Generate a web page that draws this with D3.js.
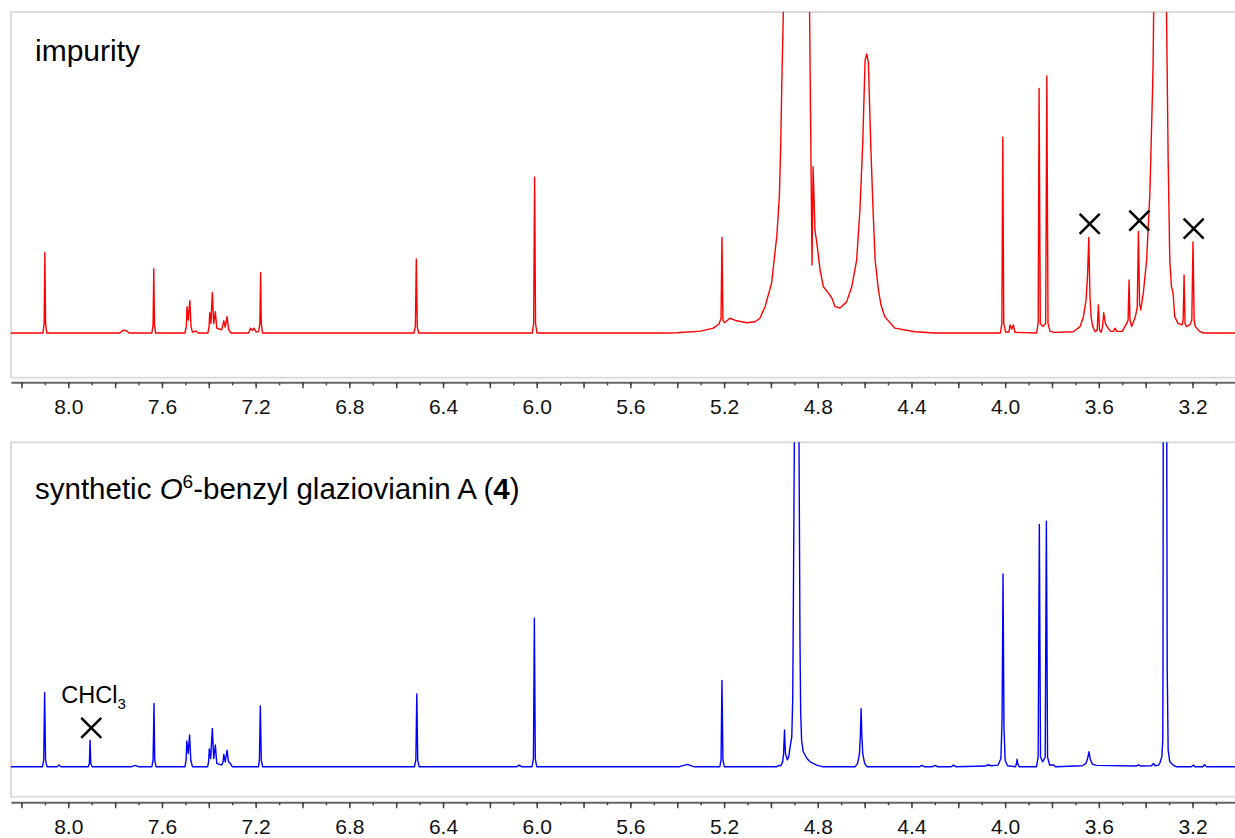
<!DOCTYPE html>
<html>
<head>
<meta charset="utf-8">
<script src="https://cdn.jsdelivr.net/npm/d3@7"></script>
<style>
  body { margin: 0; background: #fff; }
  svg text { font-family: "Liberation Sans", Arial, sans-serif; }
</style>
</head>
<body>
<div id="chart"></div>
<script>
// 1H NMR traces, [ppm, intensity]; intensity 0 = baseline, 100 = top of the frame
const impurityTrace = [
  [8.25, 0], [8.108, 0], [8.103, 3], [8.100, 25.1], [8.097, 3], [8.092, 0],
  [7.78, 0], [7.765, 0.9], [7.752, 0.7], [7.74, 0],
  [7.643, 0], [7.638, 2.5], [7.635, 20.0], [7.632, 2.5], [7.627, 0],
  [7.502, 0], [7.496, 2], [7.493, 8.2], [7.488, 4], [7.481, 10.1], [7.476, 2], [7.470, 0.3],
  [7.455, 0.6], [7.445, 0],
  [7.404, 0], [7.399, 2], [7.396, 6.3], [7.391, 3], [7.385, 12.6], [7.379, 3], [7.372, 6.6], [7.366, 1.5],
  [7.345, 1.0], [7.336, 3.8], [7.330, 1.8], [7.322, 5.1], [7.315, 1.0], [7.305, 0],
  [7.23, 0], [7.222, 1.5], [7.215, 0.8], [7.207, 1.5], [7.198, 0.3],
  [7.187, 0.5], [7.182, 3], [7.179, 18.9], [7.176, 3], [7.171, 0],
  [6.524, 0], [6.518, 2], [6.514, 23.1], [6.510, 2], [6.504, 0],
  [6.019, 0], [6.013, 3], [6.009, 48.5], [6.005, 3], [5.999, 0],
  [5.45, 0], [5.40, 0.1], [5.30, 0.6], [5.246, 1.5], [5.222, 2.8], [5.213, 4.5], [5.209, 29.8],
  [5.205, 4], [5.198, 3.2], [5.175, 4.6], [5.146, 3.8], [5.103, 3.2], [5.068, 3.5], [5.047, 4.6],
  [5.025, 8.2], [4.997, 15.6], [4.975, 30.1], [4.964, 42.5], [4.958, 59.2], [4.953, 79.9],
  [4.947, 100], [4.935, 180], [4.890, 400], [4.845, 180], [4.835, 100], [4.829, 53.9],
  [4.8245, 21.2], [4.820, 51.8], [4.812, 32.1], [4.804, 28], [4.790, 19.6], [4.776, 14.4],
  [4.755, 12.5], [4.740, 10.9], [4.726, 8.2], [4.705, 7.8], [4.677, 9.7], [4.655, 14.4],
  [4.634, 22.7], [4.620, 38.3], [4.608, 59.2], [4.598, 85], [4.591, 86.9], [4.584, 84.4],
  [4.574, 59.2], [4.564, 38.3], [4.555, 22.7], [4.541, 13.4], [4.530, 8.7], [4.514, 5.1],
  [4.471, 1.5], [4.385, 0.4], [4.30, 0],
  [4.020, 0], [4.014, 3], [4.010, 61.0], [4.006, 3], [3.998, 0.3],
  [3.984, 0.3], [3.979, 2.5], [3.972, 1.2], [3.965, 2.5], [3.958, 0.2],
  [3.866, 0], [3.859, 3], [3.855, 76.2], [3.850, 3], [3.839, 2.0], [3.827, 3], [3.822, 80.1],
  [3.817, 3], [3.808, 0.5], [3.79, 0.2],
  [3.709, 0.4], [3.680, 2.0], [3.666, 5], [3.655, 10], [3.648, 18], [3.643, 29.8], [3.638, 12],
  [3.633, 5], [3.626, 2], [3.616, 0.4],
  [3.607, 0.8], [3.602, 8.7], [3.597, 1.0], [3.590, 0.2], [3.584, 2], [3.579, 6.3], [3.572, 3],
  [3.565, 2], [3.55, 0.5],
  [3.538, 0.5], [3.531, 1.5], [3.524, 0.5], [3.50, 0.5], [3.481, 3.0], [3.475, 4], [3.471, 16.5],
  [3.467, 4], [3.460, 2.0], [3.444, 5.1], [3.436, 8], [3.431, 31.6], [3.426, 9], [3.421, 7.2],
  [3.410, 12.5], [3.396, 22.7], [3.382, 43.6], [3.371, 74.8], [3.368, 85], [3.362, 130],
  [3.337, 400], [3.314, 130], [3.311, 100], [3.304, 53.9], [3.297, 22.7], [3.290, 14.4],
  [3.283, 12.5], [3.276, 5.1], [3.262, 3.0], [3.245, 2.5], [3.240, 4], [3.236, 18.1], [3.232, 3],
  [3.226, 2], [3.212, 2.5], [3.203, 4], [3.198, 28.4], [3.193, 4], [3.188, 2], [3.170, 0.5],
  [3.153, 0], [2.99, 0]
];

const syntheticTrace = [
  [8.25, 0], [8.110, 0], [8.105, 2], [8.101, 22.9], [8.097, 2], [8.091, 0],
  [8.048, 0], [8.040, 0.5], [8.032, 0],
  [7.915, 0], [7.910, 1], [7.907, 8.2], [7.904, 1], [7.898, 0],
  [7.73, 0], [7.715, 0.4], [7.70, 0],
  [7.643, 0], [7.638, 2], [7.634, 19.5], [7.631, 2], [7.625, 0],
  [7.502, 0], [7.497, 2], [7.494, 7.9], [7.488, 4.1], [7.482, 9.8], [7.477, 2], [7.470, 0],
  [7.405, 0], [7.401, 1.5], [7.398, 5.5], [7.392, 2.5], [7.385, 11.8], [7.379, 2.5], [7.372, 6.7], [7.366, 1],
  [7.345, 0.5], [7.339, 1.5], [7.336, 3.8], [7.330, 1.5], [7.322, 5.1], [7.316, 1.5], [7.310, 1.2], [7.300, 0],
  [7.188, 0], [7.184, 2], [7.180, 18.7], [7.176, 2], [7.170, 0],
  [6.522, 0], [6.516, 2], [6.512, 22.4], [6.508, 2], [6.502, 0],
  [6.085, 0], [6.075, 0.5], [6.065, 0],
  [6.020, 0], [6.014, 2.5], [6.010, 45.8], [6.006, 2.5], [6.000, 0],
  [5.39, 0], [5.357, 0.7], [5.33, 0],
  [5.218, 0], [5.213, 2], [5.209, 26.6], [5.205, 2], [5.199, 0],
  [4.975, 0], [4.965, 0.4], [4.958, 0.3], [4.950, 1.5], [4.946, 4], [4.942, 11.3], [4.938, 4],
  [4.930, 2.1], [4.924, 3.1], [4.918, 6.2], [4.911, 9.2], [4.907, 20.6], [4.904, 52.4], [4.900, 100],
  [4.890, 400], [4.880, 100], [4.876, 39], [4.873, 16.5], [4.869, 8.2], [4.862, 4.6], [4.847, 2.6],
  [4.833, 1.5], [4.805, 0.5], [4.78, 0],
  [4.640, 0], [4.630, 1], [4.622, 4], [4.618, 10], [4.615, 17.9], [4.612, 10], [4.608, 4], [4.600, 1], [4.590, 0],
  [4.365, 0], [4.356, 0.4], [4.345, 0], [4.31, 0], [4.299, 0.4], [4.29, 0], [4.23, 0], [4.221, 0.5],
  [4.21, 0], [4.085, 0.2], [4.072, 0.6], [4.06, 0.3],
  [4.030, 0.5], [4.018, 2.5], [4.013, 15], [4.009, 59.4], [4.005, 12], [4.000, 2], [3.990, 0.3],
  [3.956, 0], [3.952, 0.8], [3.949, 2.3], [3.946, 0.8], [3.940, 0],
  [3.866, 0], [3.859, 3], [3.854, 74.7], [3.849, 3], [3.840, 1.5], [3.829, 3], [3.824, 75.7],
  [3.819, 3], [3.810, 0.5], [3.794, 0.6], [3.785, 0],
  [3.67, 0.3], [3.655, 1], [3.648, 2.5], [3.642, 4.6], [3.636, 2.2], [3.628, 0.8], [3.61, 0.4],
  [3.44, 0.2], [3.431, 0.6], [3.42, 0.2], [3.375, 0.3], [3.367, 1.0], [3.36, 0.3],
  [3.345, 0.5], [3.339, 1.2], [3.331, 3.1], [3.327, 8.2], [3.326, 30], [3.325, 100], [3.318, 400],
  [3.310, 100], [3.308, 30], [3.304, 5.1], [3.297, 1.5], [3.283, 0.5], [3.27, 0],
  [3.205, 0], [3.196, 0.5], [3.19, 0], [3.155, 0], [3.149, 0.6], [3.14, 0], [2.99, 0]
];

// crossed-out signals [ppm, intensity]
const impurityCrosses = [[3.639, 34], [3.427, 35], [3.195, 32.5]];
const syntheticCrosses = [[7.902, 12.0]];

const ppmDomain = [8.245, 2.99];
const minorTicks = d3.range(30, 83).map(d => d / 10);
const majorTicks = minorTicks.filter(d => Math.round(d * 10) % 2 === 0);

const width = 1235, height = 838;

const svg = d3.select("#chart").append("svg")
    .attr("width", width)
    .attr("height", height);

const x = d3.scaleLinear().domain(ppmDomain).range([10.9, 1241.7]);

const panels = [
    { id: "top", trace: impurityTrace, color: "#ff0000", crosses: impurityCrosses,
      frameTop: 12, frameBottom: 377.7, baseline: 333, axisY: 382.3, titleY: 61 },
    { id: "bottom", trace: syntheticTrace, color: "#0000ff", crosses: syntheticCrosses,
      frameTop: 442.3, frameBottom: 796.7, baseline: 766.7, axisY: 802.3, titleY: 499 }
];

panels.forEach(p => {
    const y = d3.scaleLinear().domain([0, 100]).range([p.baseline, p.frameTop]);

    svg.append("clipPath").attr("id", "clip-" + p.id)
        .append("rect")
        .attr("x", x(ppmDomain[0]))
        .attr("y", p.frameTop)
        .attr("width", x(ppmDomain[1]) - x(ppmDomain[0]))
        .attr("height", p.frameBottom - p.frameTop);

    // frame
    svg.append("rect")
        .attr("x", 11)
        .attr("y", p.frameTop)
        .attr("width", 1240)
        .attr("height", p.frameBottom - p.frameTop)
        .attr("fill", "none")
        .attr("stroke", "#dcdcdc")
        .attr("stroke-width", 2);

    // spectrum
    const line = d3.line()
        .x(d => x(d[0]))
        .y(d => y(d[1]));

    svg.append("path")
        .datum(p.trace)
        .attr("clip-path", "url(#clip-" + p.id + ")")
        .attr("d", line)
        .attr("fill", "none")
        .attr("stroke", p.color)
        .attr("stroke-width", 1.4)
        .attr("stroke-linejoin", "round");

    // crosses
    svg.append("g")
        .selectAll("path")
        .data(p.crosses)
        .join("path")
        .attr("transform", d => `translate(${x(d[0])},${y(d[1])})`)
        .attr("d", "M-10,-10L10,10M-10,10L10,-10")
        .attr("stroke", "#000")
        .attr("stroke-width", 2.5)
        .attr("fill", "none");

    // minor ticks
    const minorAxis = svg.append("g")
        .attr("transform", `translate(0,${p.axisY})`)
        .call(d3.axisBottom(x).tickValues(minorTicks).tickSize(3).tickSizeOuter(0).tickFormat(""));
    minorAxis.select(".domain").attr("stroke", "#666").attr("stroke-width", 2);
    minorAxis.selectAll(".tick line").attr("stroke", "#444").attr("stroke-width", 1.5);

    // major ticks with labels every 0.4 ppm
    const majorAxis = svg.append("g")
        .attr("transform", `translate(0,${p.axisY})`)
        .call(d3.axisBottom(x).tickValues(majorTicks).tickSize(6).tickSizeOuter(0).tickPadding(11)
            .tickFormat(d => Math.round(d * 10) % 4 === 0 ? d.toFixed(1) : ""));
    majorAxis.select(".domain").remove();
    majorAxis.selectAll(".tick line").attr("stroke", "#444").attr("stroke-width", 1.5);
    majorAxis.selectAll(".tick text")
        .attr("fill", "#111")
        .style("font-size", "21px")
        .style("font-family", "'Liberation Sans', Arial, sans-serif");

    p.y = y;
});

// titles
svg.append("text")
    .attr("x", 35).attr("y", panels[0].titleY)
    .style("font-size", "30px")
    .text("impurity");

const title2 = svg.append("text")
    .attr("x", 35).attr("y", panels[1].titleY)
    .style("font-size", "29.5px");
title2.append("tspan").text("synthetic ");
title2.append("tspan").style("font-style", "italic").text("O");
title2.append("tspan").attr("dy", -11).style("font-size", "19px").text("6");
title2.append("tspan").attr("dy", 11).text("-benzyl glaziovianin A (");
title2.append("tspan").style("font-weight", "bold").text("4");
title2.append("tspan").text(")");

// CHCl3 label above its cross
const chcl = syntheticCrosses[0];
const chclLabel = svg.append("text")
    .attr("x", x(chcl[0]) - 30)
    .attr("y", panels[1].y(chcl[1]) - 25)
    .style("font-size", "23.5px");
chclLabel.append("tspan").text("CHCl");
chclLabel.append("tspan").attr("dy", 6).style("font-size", "15px").text("3");
</script>
</body>
</html>
